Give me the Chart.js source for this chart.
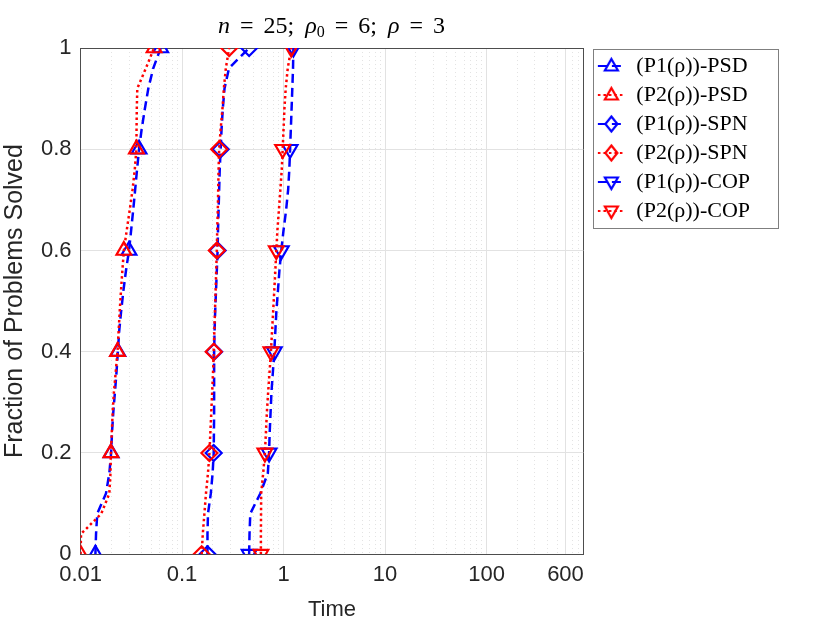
<!DOCTYPE html>
<html lang="en">
<head>
    <meta charset="UTF-8">
    <title>Performance profile</title>
    <style>
        html, body { margin: 0; padding: 0; background: #ffffff; }
        .grafico-container { position: relative; width: 830px; height: 623px; }
        .titulo {
            position: absolute; left: 80px; width: 503px; top: 12px;
            text-align: center; font-family: 'Liberation Serif', serif;
            font-size: 24px; color: #000; z-index: 2; white-space: nowrap;
        }
        .titulo sub { font-size: 16px; vertical-align: -4px; line-height: 0; }
        .titulo .eq { margin: 0 10px; }
        .titulo .sep { margin-left: 11px; }
    </style>
</head>
<body>
    <div class="grafico-container">
        <div class="titulo"><i>n</i><span class="eq">=</span>25;<span class="sep"><i>ρ</i><sub>0</sub></span><span class="eq">=</span>6;<span class="sep"><i>ρ</i></span><span class="eq">=</span>3</div>
        <canvas id="grafico"></canvas>
    </div>

    <script src="https://cdn.jsdelivr.net/npm/chart.js"></script>
    <script>
        // Fracao de problemas resolvidos (25 problemas)
        const fracoes = [0, 0.04, 0.08, 0.12, 0.16, 0.2, 0.24, 0.28, 0.32, 0.36, 0.4, 0.44, 0.48,
                         0.52, 0.56, 0.6, 0.64, 0.68, 0.72, 0.76, 0.8, 0.84, 0.88, 0.92, 0.96, 1];

        // Tempos
        const p1Psd = [0.0140, 0.0142, 0.0146, 0.0178, 0.0192, 0.0200, 0.0204, 0.0210, 0.0218, 0.0226,
                       0.0233, 0.0240, 0.0251, 0.0264, 0.0280, 0.0300, 0.0315, 0.0330, 0.0345, 0.0360,
                       0.0377, 0.0400, 0.0430, 0.0465, 0.0520, 0.0616];
        const p2Psd = [0.0100, 0.0101, 0.0160, 0.0192, 0.0197, 0.0199, 0.0203, 0.0207, 0.0213, 0.0222,
                       0.0231, 0.0237, 0.0243, 0.0250, 0.0258, 0.0267, 0.0285, 0.0305, 0.0325, 0.0342,
                       0.0355, 0.0356, 0.0358, 0.0362, 0.0440, 0.0530];
        const p1Spn = [0.178, 0.178, 0.180, 0.192, 0.200, 0.205, 0.206, 0.207, 0.207, 0.207,
                       0.207, 0.209, 0.212, 0.216, 0.220, 0.224, 0.226, 0.229, 0.232, 0.235,
                       0.240, 0.245, 0.252, 0.262, 0.290, 0.458];
        const p2Spn = [0.156, 0.160, 0.166, 0.172, 0.180, 0.186, 0.190, 0.194, 0.198, 0.202,
                       0.205, 0.208, 0.211, 0.214, 0.217, 0.220, 0.222, 0.225, 0.227, 0.229,
                       0.232, 0.240, 0.250, 0.258, 0.270, 0.291];
        const p1Cop = [0.458, 0.462, 0.470, 0.590, 0.700, 0.720, 0.730, 0.745, 0.760, 0.785,
                       0.810, 0.830, 0.850, 0.880, 0.910, 0.950, 1.000, 1.060, 1.110, 1.140,
                       1.160, 1.180, 1.200, 1.220, 1.240, 1.250];
        const p2Cop = [0.598, 0.598, 0.600, 0.602, 0.630, 0.655, 0.670, 0.685, 0.705, 0.728,
                       0.751, 0.770, 0.790, 0.810, 0.830, 0.848, 0.870, 0.900, 0.930, 0.960,
                       0.980, 1.000, 1.020, 1.050, 1.100, 1.190];

        const nomesSeries = ['(P1(ρ))-PSD', '(P2(ρ))-PSD', '(P1(ρ))-SPN', '(P2(ρ))-SPN', '(P1(ρ))-COP', '(P2(ρ))-COP'];
        const xTicks = [0.01, 0.1, 1, 10, 100, 600, 900];
        const xTickRotulos = ['0.01', '0.1', '1', '10', '100', '600', ''];
        const yTickRotulos = ['0', '0.2', '0.4', '0.6', '0.8', '1'];

        // linhas menores da grade (2..9 de cada decada)
        const xMenores = [];
        [0.01, 0.1, 1, 10, 100].forEach(d => {
            for (let m = 2; m <= 9; m++) {
                const v = +(d * m).toPrecision(3);
                if (v < 900 && v !== 600) xMenores.push(v);
            }
        });

        const AZUL = '#0000ff';
        const VERMELHO = '#ff0000';
        const TRACO = [9, 5];
        const PONTO = [2.5, 3];

        function pontos(tempos) {
            return tempos.map((t, i) => ({ x: t, y: fracoes[i] }));
        }

        function serie(nome, tempos, cor, traco, forma, rotacao, ordem) {
            return {
                label: nome,
                data: pontos(tempos),
                showLine: true,
                borderColor: cor,
                borderWidth: 2.5,
                borderDash: traco,
                pointStyle: forma,
                pointRotation: rotacao,
                pointRadius: ctx => (ctx.dataIndex % 5 === 0 ? (forma === 'rectRot' ? 8 : 8.5) : 0),
                pointHoverRadius: ctx => (ctx.dataIndex % 5 === 0 ? 8 : 0),
                pointBorderColor: cor,
                pointBackgroundColor: 'rgba(0,0,0,0)',
                pointBorderWidth: 2.2,
                order: ordem
            };
        }

        // amostra da legenda: linha + marcador
        function amostra(cor, traco, forma) {
            const c = document.createElement('canvas');
            c.width = 36; c.height = 22;
            const g = c.getContext('2d');
            g.strokeStyle = cor;
            g.lineWidth = 2.2;
            g.setLineDash(traco);
            g.beginPath(); g.moveTo(8, 11); g.lineTo(35, 11); g.stroke();
            g.setLineDash([]);
            const cx = 21.5, cy = 11;
            g.beginPath();
            if (forma === 'up') {
                g.moveTo(cx, cy - 7); g.lineTo(cx + 6.5, cy + 4.5); g.lineTo(cx - 6.5, cy + 4.5);
            } else if (forma === 'down') {
                g.moveTo(cx, cy + 7); g.lineTo(cx + 6.5, cy - 4.5); g.lineTo(cx - 6.5, cy - 4.5);
            } else {
                g.moveTo(cx, cy - 7.5); g.lineTo(cx + 6, cy); g.lineTo(cx, cy + 7.5); g.lineTo(cx - 6, cy);
            }
            g.closePath();
            g.stroke();
            return c;
        }

        const amostras = [
            amostra(AZUL, TRACO, 'up'), amostra(VERMELHO, PONTO, 'up'),
            amostra(AZUL, TRACO, 'diamond'), amostra(VERMELHO, PONTO, 'diamond'),
            amostra(AZUL, TRACO, 'down'), amostra(VERMELHO, PONTO, 'down')
        ];

        // moldura da legenda
        const bordaLegenda = {
            id: 'bordaLegenda',
            afterDraw(chart) {
                const caixas = chart.legend.legendHitBoxes;
                if (!caixas || !caixas.length) return;
                const ctx = chart.ctx;
                const esq = caixas[0].left + 3;
                const topo = caixas[0].top - 6;
                const ult = caixas[caixas.length - 1];
                const base = ult.top + ult.height + 6;
                ctx.save();
                ctx.strokeStyle = '#7f7f7f';
                ctx.lineWidth = 1;
                ctx.strokeRect(Math.round(esq) + 0.5, Math.round(topo) + 0.5, 185, Math.round(base - topo));
                ctx.restore();
            }
        };

        const fonteEixo = { family: "'Liberation Sans', Arial, sans-serif", size: 22 };
        const corTexto = '#262626';

        const ctx = document.getElementById('grafico').getContext('2d');
        new Chart(ctx, {
            type: 'scatter',
            data: {
                datasets: [
                    serie(nomesSeries[0], p1Psd, AZUL, TRACO, 'triangle', 0, 1),
                    serie(nomesSeries[1], p2Psd, VERMELHO, PONTO, 'triangle', 0, 0),
                    serie(nomesSeries[2], p1Spn, AZUL, TRACO, 'rectRot', 0, 1),
                    serie(nomesSeries[3], p2Spn, VERMELHO, PONTO, 'rectRot', 0, 0),
                    serie(nomesSeries[4], p1Cop, AZUL, TRACO, 'triangle', 180, 1),
                    serie(nomesSeries[5], p2Cop, VERMELHO, PONTO, 'triangle', 180, 0)
                ]
            },
            plugins: [bordaLegenda],
            options: {
                responsive: true,
                maintainAspectRatio: false,
                animation: false,
                layout: { padding: { top: 48, right: 70, bottom: 0, left: 0 } },
                scales: {
                    x: {
                        type: 'logarithmic',
                        min: 0.01,
                        max: 900,
                        afterBuildTicks: axis => { axis.ticks = xTicks.map(v => ({ value: v })); },
                        grid: {
                            color: c => (c.tick && c.tick.value === 900 ? '#4d4d4d' : '#e2e2e2'),
                            drawTicks: false
                        },
                        border: { color: '#4d4d4d' },
                        ticks: {
                            autoSkip: false,
                            maxRotation: 0,
                            padding: 8,
                            color: corTexto,
                            font: fonteEixo,
                            callback: (v, i) => xTickRotulos[i]
                        },
                        title: {
                            display: true,
                            text: 'Time',
                            color: corTexto,
                            font: fonteEixo,
                            padding: { top: 0, bottom: 0 }
                        }
                    },
                    xMenor: {
                        type: 'logarithmic',
                        position: 'bottom',
                        min: 0.01,
                        max: 900,
                        afterBuildTicks: axis => { axis.ticks = xMenores.map(v => ({ value: v })); },
                        grid: { color: '#e3e3e3', lineWidth: 1, drawTicks: false },
                        border: { display: false, dash: [1, 3] },
                        ticks: { display: false }
                    },
                    y: {
                        min: 0,
                        max: 1,
                        ticks: {
                            stepSize: 0.2,
                            padding: 9,
                            color: corTexto,
                            font: fonteEixo,
                            callback: (v, i) => yTickRotulos[i]
                        },
                        grid: {
                            color: c => (c.tick && c.tick.value === 1 ? '#4d4d4d' : '#e2e2e2'),
                            drawTicks: false
                        },
                        border: { color: '#4d4d4d' },
                        title: {
                            display: true,
                            text: 'Fraction of Problems Solved',
                            color: corTexto,
                            font: { family: "'Liberation Sans', Arial, sans-serif", size: 25 },
                            padding: { top: 0, bottom: 2 }
                        }
                    }
                },
                plugins: {
                    tooltip: { enabled: false },
                    legend: {
                        position: 'right',
                        align: 'start',
                        labels: {
                            usePointStyle: true,
                            pointStyleWidth: 35,
                            padding: 7,
                            color: '#000000',
                            font: { family: "'Liberation Serif', 'Times New Roman', serif", size: 22 },
                            generateLabels: chart => {
                                const itens = Chart.defaults.plugins.legend.labels.generateLabels(chart);
                                itens.sort((a, b) => a.datasetIndex - b.datasetIndex);
                                itens.forEach(it => {
                                    it.pointStyle = amostras[it.datasetIndex];
                                    it.rotation = 0;
                                });
                                return itens;
                            }
                        }
                    }
                }
            }
        });
    </script>
</body>
</html>
